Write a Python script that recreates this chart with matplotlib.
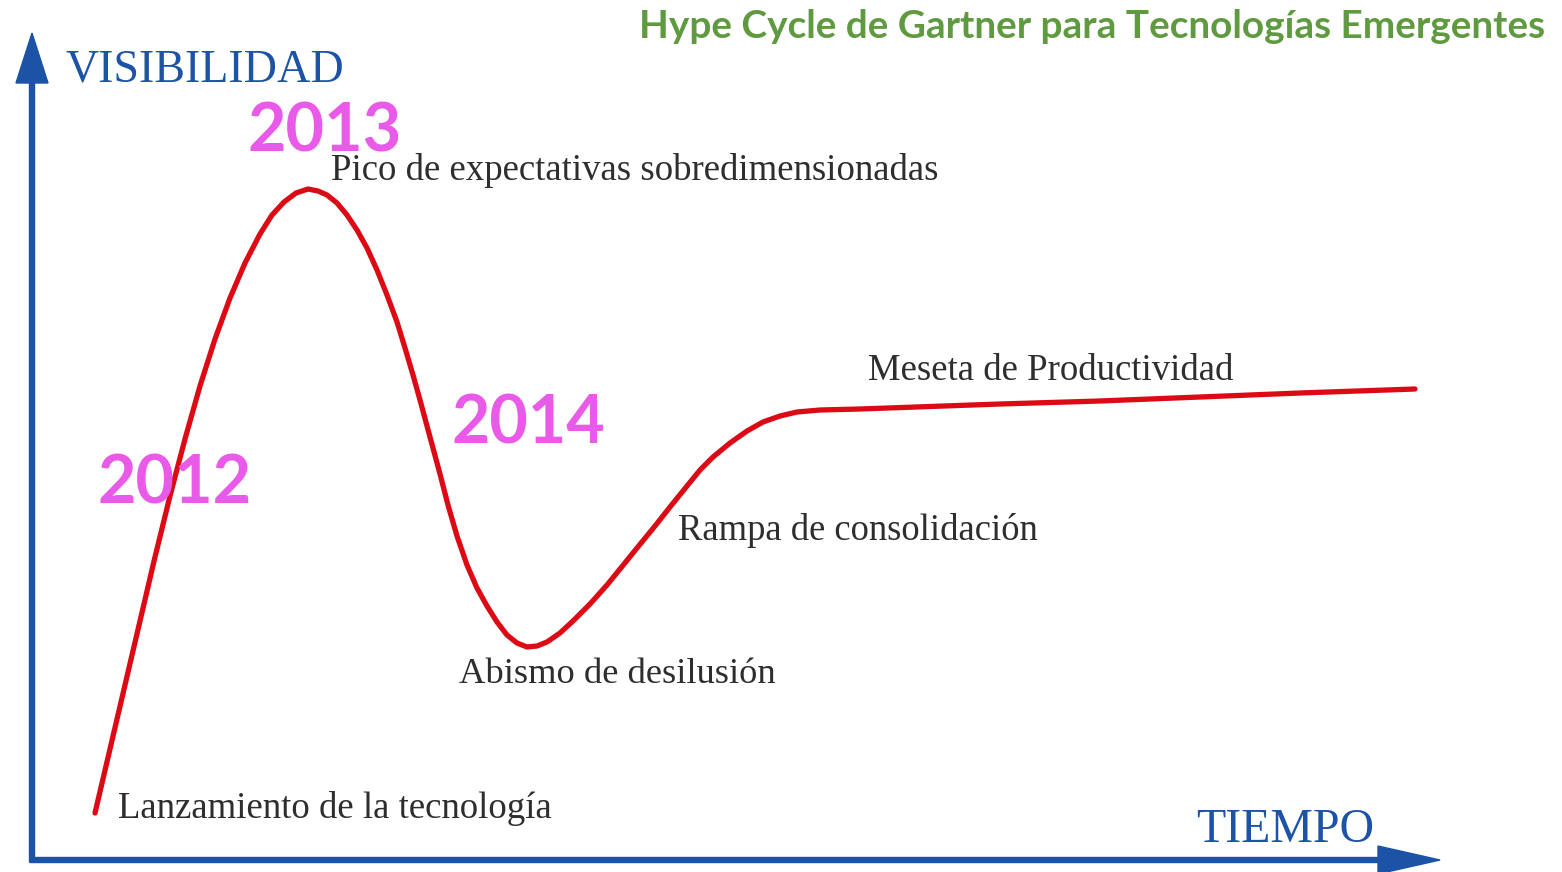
import matplotlib
matplotlib.use("Agg")
import matplotlib.pyplot as plt

# Curve data (time -> visibility), pixel-like units
time_x = [95, 110, 125, 140, 155, 170, 185, 200, 215, 230, 245, 260, 272, 284, 296,
          308, 318, 327, 337, 347, 357, 367, 377, 387, 397, 405, 413, 420, 430, 440,
          448, 457, 467, 477, 487, 497, 507, 517, 527, 537, 547, 560, 573, 590, 607,
          620, 637, 655, 670, 687, 700, 713, 730, 747, 763, 780, 797, 820, 860, 1000,
          1100, 1200, 1300, 1415]
visibility_y = [813, 749, 685, 621, 557, 496, 439, 386, 339, 298, 263, 234, 215, 202, 193,
                189, 191, 195, 203, 215, 230, 248, 270, 295, 322, 348, 375, 400, 437, 474,
                505, 536, 565, 588, 606, 622, 635, 643, 647, 646, 642, 633, 621, 604, 585,
                569, 548, 526, 507, 486, 470, 457, 443, 431, 422, 416, 412, 410, 409, 404,
                401, 397, 393, 389]

phase_labels = ["Pico de expectativas sobredimensionadas", "Meseta de Productividad",
                "Rampa de consolidación", "Abismo de desilusión",
                "Lanzamiento de la tecnología"]
year_labels = ["2013", "2014", "2012"]
title = "Hype Cycle de Gartner para Tecnologías Emergentes"
axis_labels = ["VISIBILIDAD", "TIEMPO"]

W, H = 1562, 872
fig = plt.figure(figsize=(W / 100, H / 100), dpi=100)
ax = fig.add_axes([0, 0, 1, 1])
ax.set_xlim(0, W)
ax.set_ylim(H, 0)
ax.axis("off")

blue = "#1c53a6"
red = "#dc0a14"
magenta = "#ea5ae9"
green = "#5f9a40"
dark = "#2e2e2e"

# axes arrows
ax.arrow(32, 862, 0, -829, width=5, head_width=32, head_length=50,
         length_includes_head=True, color=blue, zorder=2)
ax.arrow(30, 860, 1410, 0, width=5, head_width=28, head_length=62,
         length_includes_head=True, color=blue, zorder=2)

# hype curve
ax.plot(time_x, visibility_y, color=red, lw=3.8, solid_capstyle="round",
        solid_joinstyle="round", antialiased=True, zorder=3)

fig.canvas.draw()
renderer = fig.canvas.get_renderer()


def fit_text(s, x, y, width, ha="left", base=20, shrink=1.0, **kw):
    t = ax.text(x, y, s, fontsize=base, ha=ha, va="baseline", **kw)
    bb = t.get_window_extent(renderer=renderer)
    t.set_fontsize(base * width / bb.width * shrink)
    return t


serif = ["Liberation Serif", "DejaVu Serif"]
sans = ["Lato", "Open Sans", "DejaVu Sans"]
k = 0.97

# phase labels
fit_text(phase_labels[0], 331, 180, 626, shrink=k, family=serif, color=dark, zorder=4)
fit_text(phase_labels[1], 868, 380, 377, shrink=k, family=serif, color=dark, zorder=4)
fit_text(phase_labels[2], 678, 540, 372, shrink=k, family=serif, color=dark, zorder=4)
fit_text(phase_labels[3], 459, 683, 326, shrink=k, family=serif, color=dark, zorder=4)
fit_text(phase_labels[4], 118, 818, 447, shrink=k, family=serif, color=dark, zorder=4)

# axis labels
fit_text(axis_labels[0], 65, 82, 290, shrink=0.96, family=serif, color=blue, zorder=4)
fit_text(axis_labels[1], 1196, 842, 178, shrink=1.0, family=serif, color=blue, zorder=4)

# years
fit_text(year_labels[0], 248, 152, 154, family=sans, weight="bold", color=magenta, zorder=5)
fit_text(year_labels[1], 452, 443, 154, family=sans, weight="bold", color=magenta, zorder=5)
fit_text(year_labels[2], 98, 503, 154, family=sans, weight="bold", color=magenta, zorder=5)

# title
fit_text(title, 1545, 38, 907, ha="right", family=sans, weight="bold", color=green, zorder=5)

fig.savefig("out.png", dpi=100, facecolor="white")
